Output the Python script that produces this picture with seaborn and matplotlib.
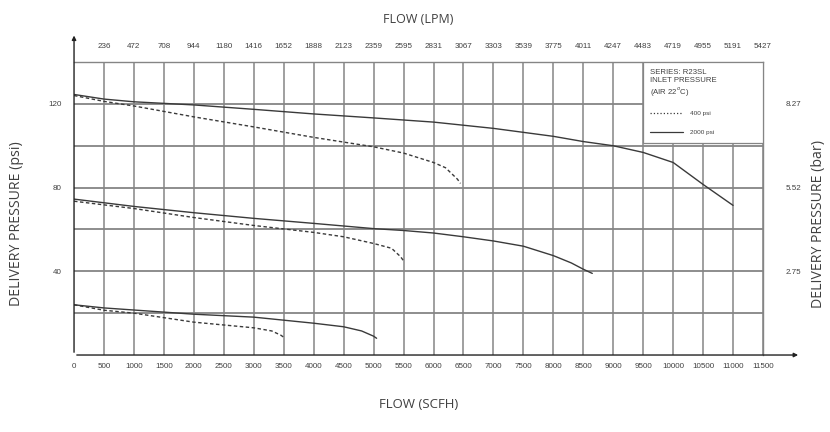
import matplotlib
matplotlib.use('Agg')
import matplotlib.pyplot as plt
from matplotlib.patches import Rectangle
import seaborn as sns
import pandas as pd

# flow in SCFH, delivery pressure in psi
top_2000_x = [0, 500, 1000, 2000, 3000, 4000, 5000, 6000, 7000, 8000, 8500, 9000, 9500, 10000, 10500, 11000]
top_2000_y = [124.5, 122.3, 121.0, 119.5, 117.4, 115.2, 113.3, 111.3, 108.3, 104.5, 102.0, 100.0, 96.8, 92.0, 81.5, 71.5]
top_400_x = [0, 500, 1000, 2000, 3000, 4000, 5000, 5500, 6000, 6200, 6400, 6450]
top_400_y = [124.0, 121.2, 119.0, 113.8, 109.0, 104.0, 99.5, 96.5, 92.0, 89.5, 84.0, 82.0]

mid_2000_x = [0, 1000, 2000, 3000, 4000, 5000, 5500, 6000, 6500, 7000, 7500, 8000, 8300, 8500, 8650]
mid_2000_y = [74.5, 71.0, 68.0, 65.3, 62.9, 60.4, 59.5, 58.3, 56.5, 54.5, 52.0, 47.5, 44.0, 41.0, 39.0]
mid_400_x = [0, 1000, 2000, 3000, 4000, 4500, 5000, 5300, 5450, 5500]
mid_400_y = [73.5, 70.0, 65.7, 61.9, 58.6, 56.5, 53.3, 51.0, 47.0, 45.0]

bot_2000_x = [0, 500, 1000, 2000, 3000, 4000, 4500, 4800, 5000, 5050]
bot_2000_y = [24.0, 22.5, 21.5, 19.5, 18.1, 15.2, 13.5, 11.5, 9.0, 8.0]
bot_400_x = [0, 500, 1000, 2000, 3000, 3300, 3450, 3500]
bot_400_y = [24.0, 21.4, 20.0, 15.7, 13.0, 11.5, 9.5, 8.5]

scfh_ticks = list(range(0, 12000, 500))
lpm_labels = ['236', '472', '708', '944', '1180', '1416', '1652', '1888', '2123', '2359',
              '2595', '2831', '3067', '3303', '3539', '3775', '4011', '4247', '4483',
              '4719', '4955', '5191', '5427']
psi_ticks = [120, 80, 40]
bar_labels = ['8.27', '5.52', '2.75']

curves = [
    (top_2000_x, top_2000_y, '2000 psi'), (top_400_x, top_400_y, '400 psi'),
    (mid_2000_x, mid_2000_y, '2000 psi'), (mid_400_x, mid_400_y, '400 psi'),
    (bot_2000_x, bot_2000_y, '2000 psi'), (bot_400_x, bot_400_y, '400 psi'),
]

sns.set_style('white')
plt.rcParams['font.family'] = ['Liberation Sans', 'DejaVu Sans']

fig = plt.figure(figsize=(8.3, 4.32), dpi=100)
ax = fig.add_axes([0.0892, 0.1782, 0.8301, 0.6782])

line_col = '#3a3a3a'
grid_col = '#858585'
txt_col = '#404040'
title_font = ['Open Sans', 'DejaVu Sans']

for xs, ys, inlet in curves:
    df = pd.DataFrame({'flow': xs, 'pressure': ys})
    ls = (0, (2.5, 1.8)) if inlet == '400 psi' else '-'
    sns.lineplot(data=df, x='flow', y='pressure', ax=ax, color=line_col,
                 linewidth=1.0, linestyle=ls, estimator=None, sort=True)

ax.set_xlim(0, 11500)
ax.set_ylim(0, 140)

# grid
for gx in scfh_ticks[1:]:
    ax.axvline(gx, color=grid_col, lw=1.1, zorder=0)
for gy in range(20, 140, 20):
    ax.axhline(gy, color=grid_col, lw=1.3, zorder=0)

ax.set_xticks(scfh_ticks)
ax.set_xticklabels([str(t) for t in scfh_ticks], fontsize=5.8, color=txt_col)
ax.set_yticks(psi_ticks)
ax.set_yticklabels([str(t) for t in psi_ticks], fontsize=5.8, color=txt_col)
ax.tick_params(axis='x', length=0, pad=6)
ax.tick_params(axis='y', length=0, pad=9)
ax.set_xlabel('FLOW (SCFH)', fontsize=9.5, color=txt_col, labelpad=20, family=title_font)
ax.set_ylabel('')

for side in ['top', 'right']:
    ax.spines[side].set_color(grid_col)
    ax.spines[side].set_linewidth(1.0)
ax.spines['left'].set_visible(False)
ax.spines['bottom'].set_visible(False)

# axis arrows
ax.annotate('', xy=(0, 1.1), xytext=(0, 0), xycoords='axes fraction',
            arrowprops=dict(arrowstyle='-|>', color='#222222', lw=1.0, mutation_scale=6),
            annotation_clip=False)
ax.annotate('', xy=(1.055, 0), xytext=(0, 0), xycoords='axes fraction',
            arrowprops=dict(arrowstyle='-|>', color='#222222', lw=1.0, mutation_scale=6),
            annotation_clip=False)

# top axis in LPM
top = ax.secondary_xaxis('top')
top.set_xticks(scfh_ticks[1:])
top.set_xticklabels(lpm_labels, fontsize=5.8, color=txt_col)
top.tick_params(length=0, pad=9)
top.set_xlabel('FLOW (LPM)', fontsize=9, color=txt_col, labelpad=14, family=title_font)
top.spines['top'].set_visible(False)

# right axis in bar
right = ax.twinx()
right.set_ylim(ax.get_ylim())
right.set_yticks(psi_ticks)
right.set_yticklabels(bar_labels, fontsize=5.8, color=txt_col)
right.tick_params(length=0, pad=16)
for s in right.spines.values():
    s.set_visible(False)

fig.text(17 / 830, 0.482, 'DELIVERY PRESSURE (psi)', rotation=90, ha='center', va='center',
         fontsize=10.2, color=txt_col, family=title_font)
fig.text(818 / 830, 0.482, 'DELIVERY PRESSURE (bar)', rotation=90, ha='center', va='center',
         fontsize=10.2, color=txt_col, family=title_font)

# legend box
lx0 = 0.826
ax.add_patch(Rectangle((lx0, 0.7235), 1 - lx0, 1 - 0.7235, transform=ax.transAxes,
                       facecolor='white', edgecolor=grid_col, lw=0.9, zorder=5))
ax.text(0.836, 0.927, 'SERIES: R23SL\nINLET PRESSURE\n(AIR 22$^o$C)', transform=ax.transAxes,
        fontsize=5.6, color=txt_col, va='center', ha='left', linespacing=1.15, zorder=6)
ax.plot([0.836, 0.884], [0.826, 0.826], transform=ax.transAxes, color=line_col,
        lw=0.9, linestyle=':', zorder=6)
ax.plot([0.836, 0.884], [0.761, 0.761], transform=ax.transAxes, color=line_col,
        lw=0.9, linestyle='-', zorder=6)
ax.text(0.894, 0.826, '400 psi', transform=ax.transAxes, fontsize=4.6, color=txt_col,
        va='center', ha='left', zorder=6)
ax.text(0.894, 0.761, '2000 psi', transform=ax.transAxes, fontsize=4.6, color=txt_col,
        va='center', ha='left', zorder=6)

fig.savefig('out.png', dpi=100)
